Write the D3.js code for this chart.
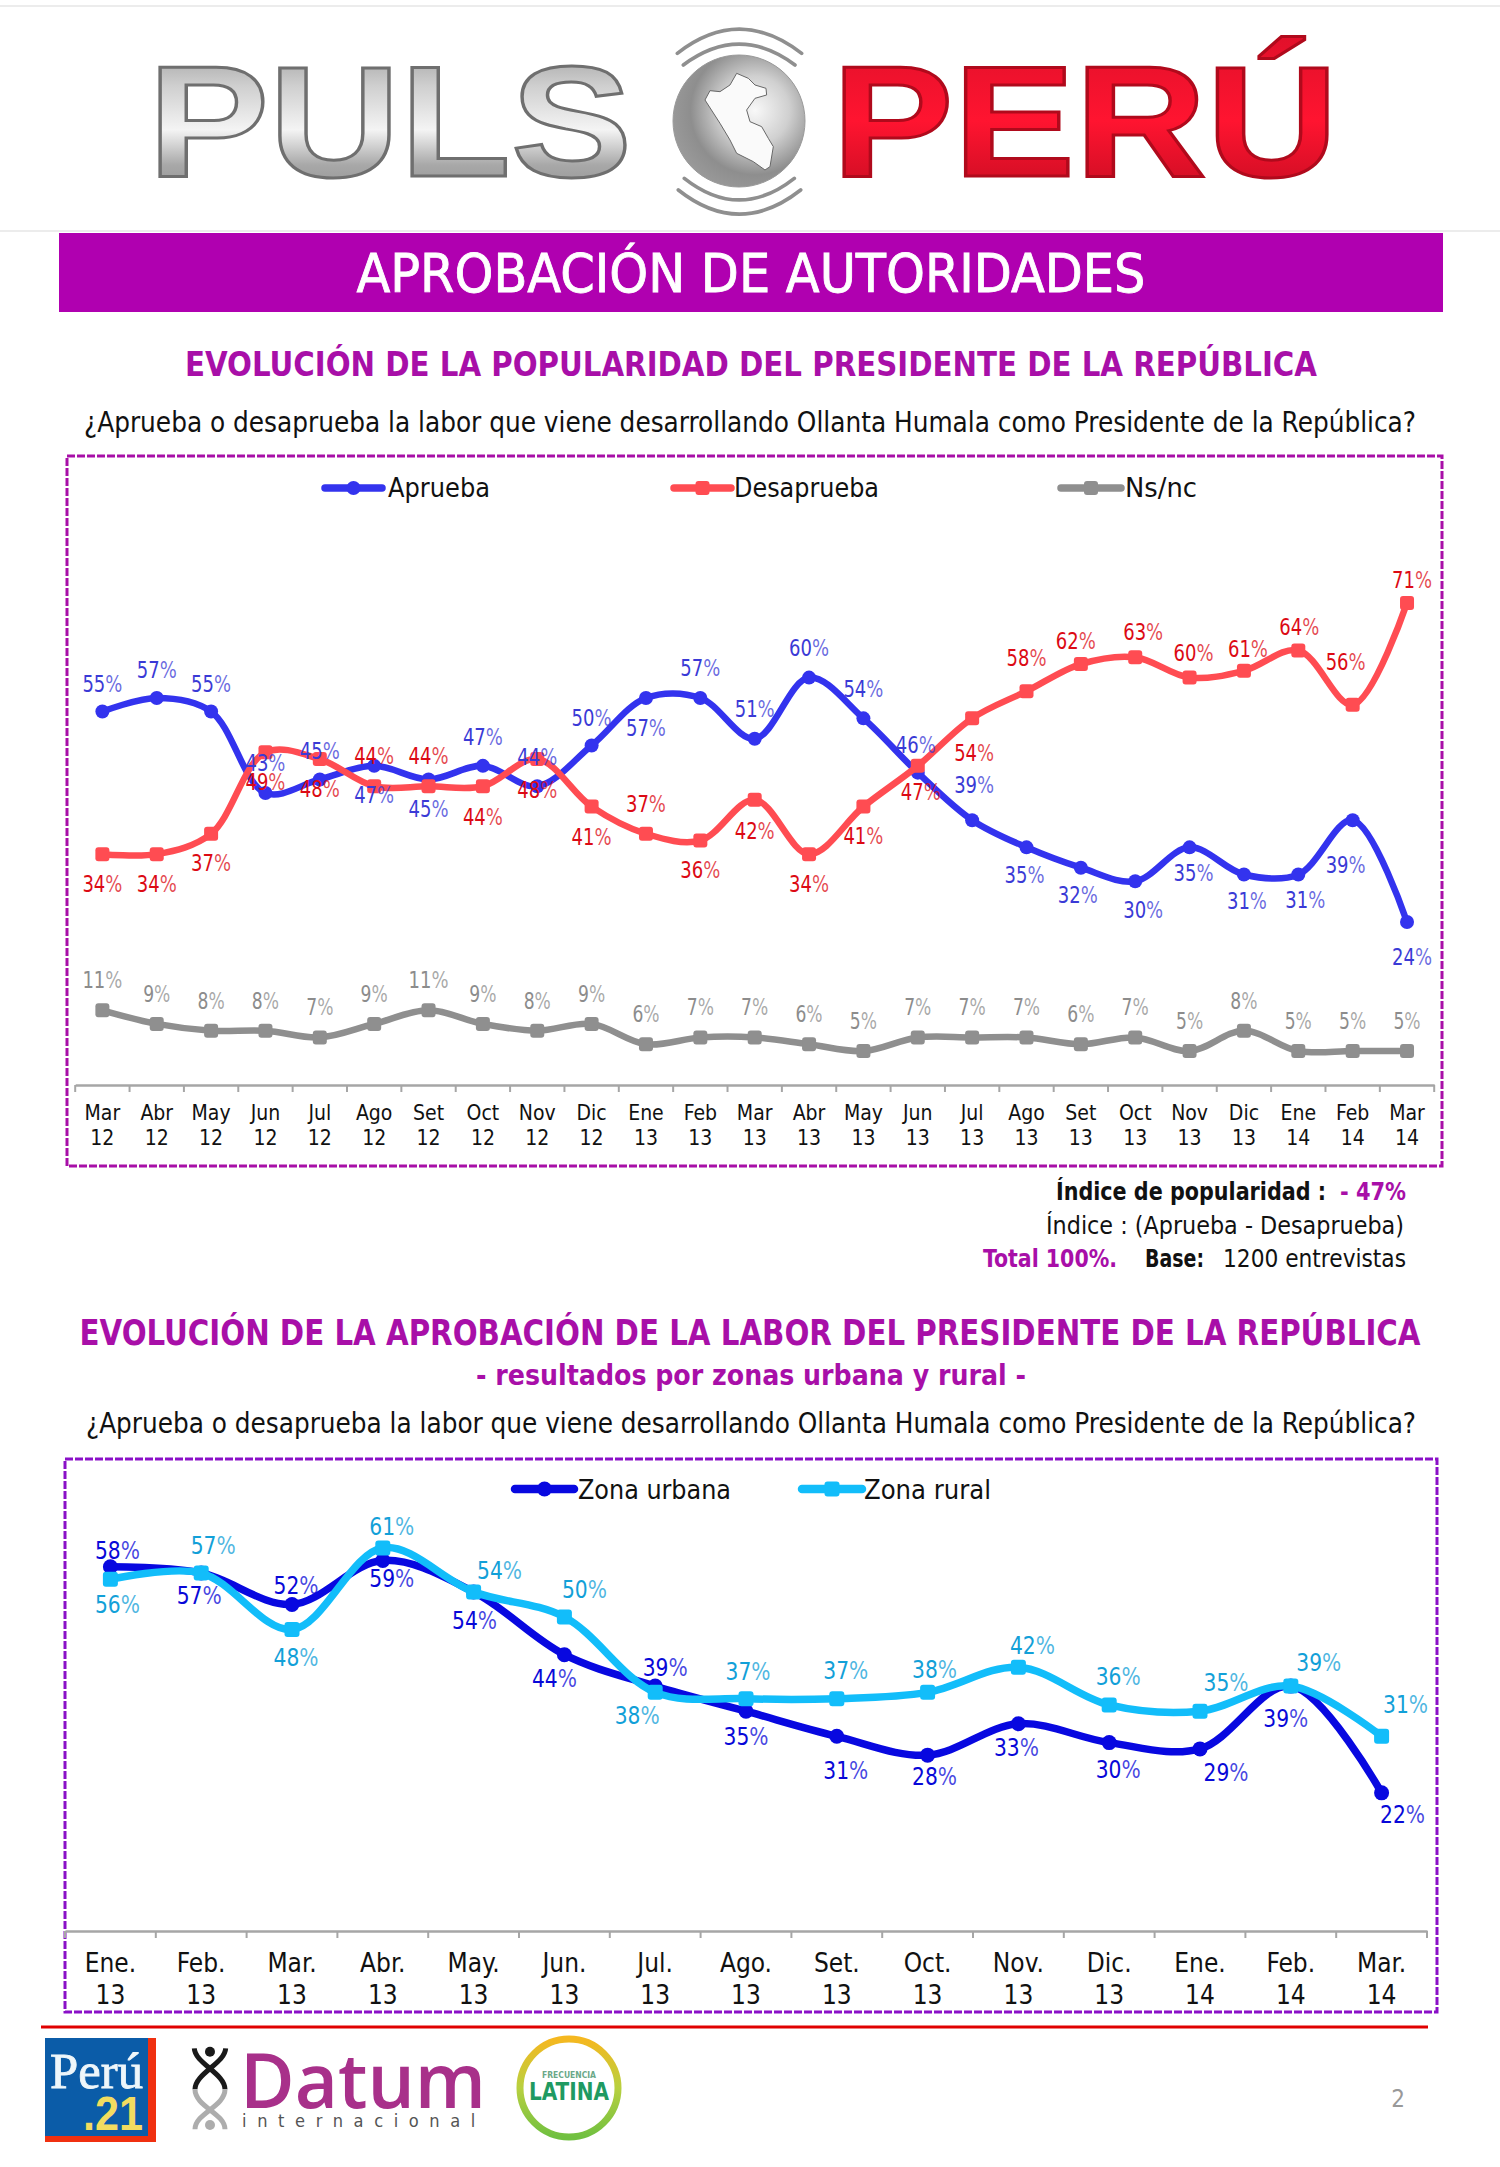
<!DOCTYPE html>
<html><head><meta charset="utf-8">
<script src="https://cdn.jsdelivr.net/npm/d3@7"></script>
<style>html,body{margin:0;padding:0;background:#fff}svg{display:block}
text{font-family:"DejaVu Sans Condensed","DejaVu Sans",sans-serif;font-stretch:condensed}</style>
</head><body><svg id="c" width="1500" height="2167" viewBox="0 0 1500 2167"></svg>
<script>
// ---- data chart 1
const months1 = ["Mar 12","Abr 12","May 12","Jun 12","Jul 12","Ago 12","Set 12","Oct 12","Nov 12","Dic 12","Ene 13","Feb 13","Mar 13","Abr 13","May 13","Jun 13","Jul 13","Ago 13","Set 13","Oct 13","Nov 13","Dic 13","Ene 14","Feb 14","Mar 14"];
const aprueba = [55,57,55,43,45,47,45,47,44,50,57,57,51,60,54,46,39,35,32,30,35,31,31,39,24];
const desaprueba = [34,34,37,49,48,44,44,44,48,41,37,36,42,34,41,47,54,58,62,63,60,61,64,56,71];
const nsnc = [11,9,8,8,7,9,11,9,8,9,6,7,7,6,5,7,7,7,6,7,5,8,5,5,5];
// ---- data chart 2
const months2 = ["Ene. 13","Feb. 13","Mar. 13","Abr. 13","May. 13","Jun. 13","Jul. 13","Ago. 13","Set. 13","Oct. 13","Nov. 13","Dic. 13","Ene. 14","Feb. 14","Mar. 14"];
const urbana = [58,57,52,59,54,44,39,35,31,28,33,30,29,39,22];
const rural = [56,57,48,61,54,50,38,37,37,38,42,36,35,39,31];
// ---- label placement, [dx,dy] from each point
const offA = [[0,-28],[0,-28],[0,-28],[0,-30],[0,-28],[0,29],[0,30],[0,-29],[0,-29],[0,-28],[0,30],[0,-30],[0,-30],[0,-30],[0,-29],[-2,-28],[2,-35],[-2,28],[-3,27],[8,29],[4,26],[3,26],[7,25],[-7,45],[5,35]];
const offD = [[0,30],[0,30],[0,29],[0,30],[0,30],[0,-30],[0,-30],[0,31],[0,31],[0,30],[0,-30],[0,29],[0,31],[0,30],[0,29],[3,26],[2,35],[0,-33],[-5,-23],[8,-25],[4,-25],[4,-22],[1,-23],[-7,-43],[5,-23]];
const offU = [[7,-17],[-2,22],[4,-19],[9,18],[1,28],[-10,23],[10,-19],[0,25],[9,34],[7,21],[-2,23],[9,26],[26,23],[-5,32],[21,21]];
const offR = [[7,25],[12,-28],[4,27],[9,-22],[26,-22],[20,-28],[-18,23],[2,-28],[9,-29],[7,-23],[14,-22],[9,-29],[26,-29],[28,-24],[24,-32]];

const svg = d3.select("#c");
function T(g,s,x,y,size,fill,o={}){
  const t=g.append("text").attr("x",x).attr("y",y).attr("font-size",size).attr("fill",fill)
    .attr("dominant-baseline",o.base||"central").attr("text-anchor",o.anchor||"start").text(s);
  if(o.bold)t.attr("font-weight","bold");
  if(o.len)t.attr("textLength",o.len).attr("lengthAdjust","spacingAndGlyphs");
  if(o.family)t.style("font-family",o.family).style("font-stretch","normal");
  return t;
}
const defs=svg.append("defs");
function grad(id,stops,vert=true){
  const g=defs.append("linearGradient").attr("id",id).attr("x1",0).attr("y1",0).attr("x2",vert?0:1).attr("y2",vert?1:0);
  stops.forEach(([o,c])=>g.append("stop").attr("offset",o).attr("stop-color",c));
}
grad("metal",[[0,"#8f8f8f"],[.3,"#cfcfcf"],[.55,"#f4f4f4"],[.75,"#a8a8a8"],[1,"#8a8a8a"]]);
grad("redm",[[0,"#e0102a"],[.5,"#ff1430"],[1,"#c00c20"]]);
const rg=defs.append("radialGradient").attr("id","globe").attr("cx",.62).attr("cy",.42).attr("r",.65);
[[0,"#f8f8f8"],[.4,"#d0d0d0"],[.75,"#8e8e8e"],[1,"#9a9a9a"]].forEach(([o,c])=>rg.append("stop").attr("offset",o).attr("stop-color",c));

// ---- header
const head=svg.append("g");
head.append("line").attr("x1",0).attr("x2",1500).attr("y1",6).attr("y2",6).attr("stroke","#e6e6e6").attr("stroke-width",1.5);
head.append("line").attr("x1",0).attr("x2",1500).attr("y1",231).attr("y2",231).attr("stroke","#e6e6e6").attr("stroke-width",1.5);
const LF='"Liberation Sans",sans-serif';
T(head,"PULS",148,176,158,"url(#metal)",{base:"auto",bold:true,len:484,family:LF}).attr("stroke","#6f6f6f").attr("stroke-width",3);
T(head,"PERÚ",832,176,158,"url(#redm)",{base:"auto",bold:true,len:506,family:LF}).attr("stroke","#b00a1c").attr("stroke-width",3);
head.append("circle").attr("cx",739).attr("cy",121).attr("r",66).attr("fill","url(#globe)").attr("stroke","#9a9a9a");
const logoG=head.append("g").attr("transform","translate(640,20) scale(0.3333)");
logoG.append("path").attr("d","M290 160L325 175L345 195L378 205L380 225L345 235L320 270L330 305L365 320L385 355L400 380L390 440L375 450L340 425L290 400L270 360L240 310L195 240L210 212L240 215L270 195Z")
  .attr("fill","#fafafa").attr("stroke","#666").attr("stroke-width",3);
["M112 100Q298 -45 485 100","M130 135Q298 10 465 135","M133 475Q298 605 463 475","M115 510Q298 655 482 510"].forEach(d=>
  logoG.append("path").attr("d",d).attr("fill","none").attr("stroke","#8f8f8f").attr("stroke-width",11).attr("stroke-linecap","round"));

// ---- titles
svg.append("rect").attr("x",59).attr("y",233).attr("width",1384).attr("height",79).attr("fill","#b000b0");
const PUR="#a80fa8";
T(svg,"APROBACIÓN DE AUTORIDADES",751,273,54,"#fff",{anchor:"middle",len:789}).attr("stroke","#fff").attr("stroke-width",.8);
T(svg,"EVOLUCIÓN DE LA POPULARIDAD DEL PRESIDENTE DE LA REPÚBLICA",751,364,34,PUR,{anchor:"middle",bold:true,len:1132});
const Q="¿Aprueba o desaprueba la labor que viene desarrollando Ollanta Humala como Presidente de la República?";
T(svg,Q,750,422,28,"#111",{anchor:"middle",len:1332});
T(svg,"Índice de popularidad :",1056,1192,24,"#111",{bold:true,len:270});
T(svg,"- 47%",1340,1192,24,PUR,{bold:true,len:66});
T(svg,"Índice : (Aprueba - Desaprueba)",1046,1226,24,"#111",{len:358});
T(svg,"Total 100%.",983,1259,24,PUR,{bold:true,len:134});
T(svg,"Base:",1145,1259,24,"#111",{bold:true,len:59});
T(svg,"1200 entrevistas",1223,1259,24,"#111",{len:183});
T(svg,"EVOLUCIÓN DE LA APROBACIÓN DE LA LABOR DEL PRESIDENTE DE LA REPÚBLICA",750,1333,35,PUR,{anchor:"middle",bold:true,len:1341});
T(svg,"- resultados por zonas urbana y rural -",751,1375,28,PUR,{anchor:"middle",bold:true,len:550});
T(svg,Q,751,1423,28,"#111",{anchor:"middle",len:1330});

// ---- charts
function marker(g,kind,x,y,color,size){
  if(kind==="circle")g.append("circle").attr("cx",x).attr("cy",y).attr("r",size/2).attr("fill",color);
  else g.append("rect").attr("x",x-size/2).attr("y",y-size/2).attr("width",size).attr("height",size).attr("rx",3).attr("fill",color);
}
function chart(cfg){
  const g=svg.append("g");
  g.append("rect").attr("x",cfg.frame[0]).attr("y",cfg.frame[1]).attr("width",cfg.frame[2]-cfg.frame[0]).attr("height",cfg.frame[3]-cfg.frame[1])
    .attr("fill","none").attr("stroke",cfg.frameColor).attr("stroke-width",3).attr("stroke-dasharray","8 2");
  const x=d3.scaleBand().domain(cfg.cats).range(cfg.xr);
  const y=d3.scaleLinear().domain([0,100]).range(cfg.yr);
  const ax=g.append("g").attr("transform",`translate(0,${cfg.yr[0]})`).call(
    d3.axisBottom(x).tickSize(0).tickFormat(""));
  ax.select(".domain").attr("stroke","#a6a6a6").attr("stroke-width",2.5);
  ax.selectAll(".tick").remove();
  const edges=cfg.cats.map(c=>x(c)).concat([x(cfg.cats[cfg.cats.length-1])+x.step()]);
  g.selectAll("line.tk").data(edges).join("line").attr("class","tk").attr("x1",d=>d).attr("x2",d=>d)
    .attr("y1",cfg.yr[0]).attr("y2",cfg.yr[0]+cfg.tick).attr("stroke","#a6a6a6").attr("stroke-width",2);
  cfg.cats.forEach(c=>{
    const [a,b]=c.split(" "), cx=x(c)+x.bandwidth()/2;
    T(g,a,cx,cfg.tickY[0],cfg.tickSize,"#111",{anchor:"middle"});
    T(g,b,cx,cfg.tickY[1],cfg.tickSize,"#111",{anchor:"middle"});
  });
  const px=i=>x(cfg.cats[i])+x.bandwidth()/2;
  const line=d3.line().x((d,i)=>px(i)).y(d=>y(d)).curve(d3.curveCatmullRom.alpha(0.5));
  cfg.series.forEach(s=>{
    g.append("path").attr("d",line(s.values)).attr("fill","none").attr("stroke",s.color).attr("stroke-width",cfg.lw).attr("stroke-linejoin","round");
    s.values.forEach((v,i)=>marker(g,s.kind,px(i),y(v),s.color,cfg.ms));
  });
  cfg.series.forEach(s=>{
    s.values.forEach((v,i)=>{
      const [dx,dy]=s.off?s.off[i]:[0,-30];
      const w=String(v).length===1?cfg.labelW*.68:cfg.labelW;
      const t=g.append("text").attr("x",px(i)+dx).attr("y",y(v)+dy).attr("text-anchor","middle").attr("dominant-baseline","central")
        .attr("font-size",cfg.labelSize).attr("fill",s.label).attr("textLength",w).attr("lengthAdjust","spacingAndGlyphs");
      t.append("tspan").text(v);
      t.append("tspan").text("%").attr("fill-opacity",.75);
    });
    const L=s.legend;
    g.append("line").attr("x1",L[0]).attr("x2",L[1]).attr("y1",cfg.legY).attr("y2",cfg.legY).attr("stroke",s.color).attr("stroke-width",cfg.lw+1).attr("stroke-linecap","round");
    marker(g,s.kind,(L[0]+L[1])/2,cfg.legY,s.color,cfg.ms);
    T(g,s.name,L[2],cfg.legY,cfg.legSize,"#111",{len:L[3]});
  });
}
chart({cats:months1,xr:[75.2,1434.2],yr:[1085,406],frame:[67,456,1442,1166],frameColor:"#a80fa8",
  tick:7,tickY:[1113,1138],tickSize:21,lw:6.5,ms:14,labelSize:23,labelW:40,legY:488,legSize:26,
  series:[
   {name:"Ns/nc",values:nsnc,color:"#8f8f8f",label:"#8c8c8c",kind:"square",legend:[1061,1121,1125,72]},
   {name:"Aprueba",values:aprueba,color:"#3333ee",label:"#3a3ad6",kind:"circle",off:offA,legend:[325,382,388,102]},
   {name:"Desaprueba",values:desaprueba,color:"#ff4c52",label:"#dc0a14",kind:"square",off:offD,legend:[674,731,734,145]}
  ]});
chart({cats:months2,xr:[65,1427],yr:[1931,1303],frame:[65,1459,1437,2012],frameColor:"#8a10c8",
  tick:7,tickY:[1963,1995],tickSize:26,lw:7.5,ms:15,labelSize:25,labelW:45,legY:1489,legSize:27,
  series:[
   {name:"Zona urbana",values:urbana,color:"#0808e0",label:"#0808d8",kind:"circle",off:offU,legend:[515,574,578,153]},
   {name:"Zona rural",values:rural,color:"#12bdfa",label:"#12a0d8",kind:"square",off:offR,legend:[802,862,864,127]}
  ]});

// ---- footer
const f=svg.append("g");
f.append("line").attr("x1",41).attr("x2",1428).attr("y1",2027).attr("y2",2027).attr("stroke","#e00000").attr("stroke-width",3);
f.append("rect").attr("x",45).attr("y",2038).attr("width",111).attr("height",104).attr("fill","#f03010");
f.append("rect").attr("x",45).attr("y",2038).attr("width",103).attr("height",98).attr("fill","#0b5ca8");
const SF='"Liberation Serif",serif';
T(f,"Perú",50,2088,50,"#eef6fa",{base:"auto",family:SF,len:93}).attr("stroke","#eef6fa").attr("stroke-width",.8);
T(f,".21",83,2130,49,"#f2dc60",{base:"auto",bold:true,family:LF,len:60});
// Datum
T(f,"Datum",240,2108,76,"#a8308a",{base:"auto",family:'"Open Sans",sans-serif',len:246}).attr("font-weight",600);
T(f,"internacional",242,2121,17,"#555",{len:244}).attr("letter-spacing",10);
const dnaG=f.append("g").attr("transform","translate(30,2030) scale(0.3333)");
[["M493 55C495 100 585 130 585 178","#1a1a1a"],["M587 55C585 100 495 130 495 178","#1a1a1a"],["M585 178C585 230 495 250 495 298","#adadad"],["M495 178C495 230 585 250 585 298","#adadad"]]
  .forEach(([d,c])=>dnaG.append("path").attr("d",d).attr("fill","none").attr("stroke",c).attr("stroke-width",15));
dnaG.append("circle").attr("cx",540).attr("cy",65).attr("r",15).attr("fill","#1a1a1a");
dnaG.append("circle").attr("cx",540).attr("cy",285).attr("r",15).attr("fill","#adadad");
// Latina
grad("ring",[[0,"#f5b820"],[.5,"#b8d040"],[1,"#70c040"]]);
f.append("circle").attr("cx",569).attr("cy",2088).attr("r",49).attr("fill","#fff").attr("stroke","url(#ring)").attr("stroke-width",7);
T(f,"FRECUENCIA",569,2075,8,"#6aa888",{anchor:"middle",bold:true,len:54});
T(f,"LATINA",569,2091,25,"#1f9a62",{anchor:"middle",bold:true,len:80});
T(f,"2",1398,2099,24,"#999",{anchor:"middle"});
</script></body></html>
